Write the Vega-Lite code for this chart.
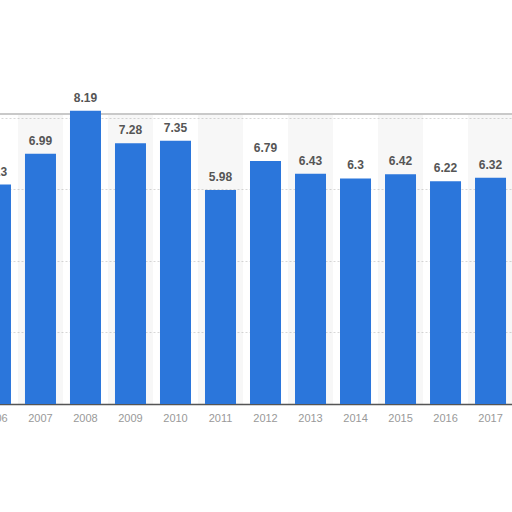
{
  "$schema": "https://vega.github.io/schema/vega-lite/v6.json",
  "width": 512,
  "height": 290,
  "autosize": {"type": "none"},
  "padding": {"top": 114, "left": 0, "right": 0, "bottom": 108},
  "background": "white",
  "config": {"view": {"stroke": null}, "font": "Liberation Sans"},
  "data": {
    "values": [
      {"year": 2006, "value": 6.13},
      {"year": 2007, "value": 6.99},
      {"year": 2008, "value": 8.19},
      {"year": 2009, "value": 7.28},
      {"year": 2010, "value": 7.35},
      {"year": 2011, "value": 5.98},
      {"year": 2012, "value": 6.79},
      {"year": 2013, "value": 6.43},
      {"year": 2014, "value": 6.3},
      {"year": 2015, "value": 6.42},
      {"year": 2016, "value": 6.22},
      {"year": 2017, "value": 6.32}
    ]
  },
  "layer": [
    {
      "mark": {"type": "rect", "fill": "#000000"},
      "encoding": {
        "x": {"field": "year", "type": "ordinal", "scale": {"range": [-27, 513], "paddingInner": 0, "paddingOuter": 0}, "axis": null},
        "y": {"datum": 0, "type": "quantitative", "scale": {"domain": [0, 8.1], "nice": false}},
        "y2": {"datum": 8.1},
        "fillOpacity": {"condition": {"test": "datum.year % 2 == 1", "value": 0.03}, "value": 0}
      }
    },
    {
      "mark": {"type": "rule", "color": "#c8c8c8", "strokeWidth": 1.5},
      "encoding": {"y": {"datum": 8.1, "type": "quantitative"}}
    },
    {
      "encoding": {
        "x": {
          "field": "year", "type": "ordinal",
          "scale": {"range": [-27, 513], "paddingInner": 0.311, "paddingOuter": 0.155},
          "axis": {"title": null, "labelAngle": 0, "ticks": false, "domainColor": "#555555", "domainWidth": 1.5, "labelColor": "#999999", "labelFontSize": 11, "labelPadding": 8, "grid": false, "labelFont": "Liberation Sans"}
        },
        "y": {
          "field": "value", "type": "quantitative",
          "scale": {"domain": [0, 8.1], "nice": false},
          "axis": {"title": null, "labels": false, "ticks": false, "domain": false, "grid": true, "gridColor": "#d8d8d8", "gridDash": [2, 2], "values": [2, 4, 6, 8]}
        }
      },
      "layer": [
        {"mark": {"type": "bar", "color": "#2b76db"}},
        {
          "mark": {"type": "text", "baseline": "bottom", "dy": -6, "fontSize": 12, "fontWeight": "bold", "color": "#555555"},
          "encoding": {"text": {"field": "value", "type": "quantitative"}}
        }
      ]
    }
  ],
  "resolve": {"scale": {"x": "independent"}}
}
